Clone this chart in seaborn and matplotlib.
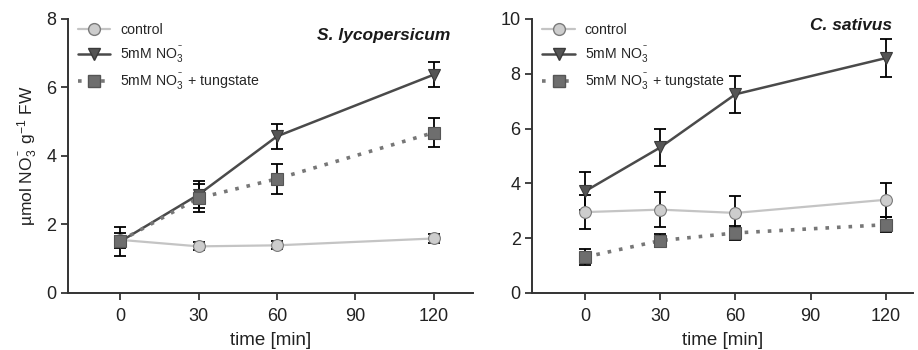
import matplotlib
matplotlib.use('Agg')
import matplotlib.pyplot as plt
import seaborn as sns
import pandas as pd

# time points (min)
time = [0, 30, 60, 120]

# S. lycopersicum
tom_control = [1.55, 1.36, 1.39, 1.59]
tom_control_err = [0.12, 0.12, 0.12, 0.12]
tom_no3 = [1.50, 2.87, 4.57, 6.37]
tom_no3_err = [0.42, 0.40, 0.37, 0.37]
tom_tung = [1.52, 2.77, 3.33, 4.68]
tom_tung_err = [0.22, 0.42, 0.43, 0.42]

# C. sativus
cuc_control = [2.95, 3.04, 2.92, 3.40]
cuc_control_err = [0.63, 0.63, 0.63, 0.63]
cuc_no3 = [3.71, 5.31, 7.25, 8.57]
cuc_no3_err = [0.70, 0.68, 0.67, 0.68]
cuc_tung = [1.31, 1.91, 2.19, 2.49]
cuc_tung_err = [0.29, 0.25, 0.25, 0.27]

labels = ['control', '5mM NO$_3^{^-}$', '5mM NO$_3^{^-}$ + tungstate']

sns.set_theme(style='ticks')
plt.rcParams['font.family'] = ['Liberation Sans', 'DejaVu Sans']
plt.rcParams['mathtext.fontset'] = 'custom'
plt.rcParams['mathtext.rm'] = 'Liberation Sans'
plt.rcParams['mathtext.it'] = 'Liberation Sans:italic'

styles = [
    dict(color='#c4c4c4', marker='o', mfc='#cdcdcd', mec='#7a7a7a', ls='-', ms=8.5, lw=1.6),
    dict(color='#4a4a4a', marker='v', mfc='#555555', mec='#3a3a3a', ls='-', ms=8.5, lw=1.8),
    dict(color='#777777', marker='s', mfc='#6e6e6e', mec='#555555', ls=(0, (1, 2.2)), ms=8, lw=2.6),
]

fig = plt.figure(figsize=(9.18, 3.5), dpi=100)
ax1 = fig.add_axes([0.074, 0.163, 0.441, 0.783])
ax2 = fig.add_axes([0.580, 0.163, 0.415, 0.783])

panels = [
    (ax1, [tom_control, tom_no3, tom_tung], [tom_control_err, tom_no3_err, tom_tung_err],
     'S. lycopersicum', 8, (-20, 135), 0.965),
    (ax2, [cuc_control, cuc_no3, cuc_tung], [cuc_control_err, cuc_no3_err, cuc_tung_err],
     'C. sativus', 10, (-21, 131), 1.005),
]

for ax, series, errs, title, ymax, xlim, ty in panels:
    handles = []
    for vals, err, lab, st in zip(series, errs, labels, styles):
        df = pd.DataFrame({'time': time, 'value': vals})
        ax.errorbar(time, vals, yerr=err, fmt='none', ecolor='black',
                    elinewidth=1.3, capsize=4, capthick=1.3, zorder=2)
        sns.lineplot(data=df, x='time', y='value', ax=ax, color=st['color'],
                     linestyle=st['ls'], linewidth=st['lw'], marker=st['marker'],
                     markersize=st['ms'], markerfacecolor=st['mfc'],
                     markeredgecolor=st['mec'], markeredgewidth=0.8, zorder=3)
        handles.append(plt.Line2D([], [], color=st['color'], linestyle=st['ls'],
                                  linewidth=st['lw'], marker=st['marker'],
                                  markersize=st['ms'], markerfacecolor=st['mfc'],
                                  markeredgecolor=st['mec'], label=lab))
    ax.set_xlim(*xlim)
    ax.set_ylim(0, ymax)
    ax.set_xticks([0, 30, 60, 90, 120])
    ax.set_yticks(range(0, ymax + 1, 2))
    ax.set_xlabel('time [min]', fontsize=13.5, color='#222222', labelpad=5)
    ax.set_ylabel('')
    ax.tick_params(labelsize=13, colors='#222222', length=5, width=1.2)
    ax.tick_params(axis='x', pad=6)
    for sp in ['left', 'bottom']:
        ax.spines[sp].set_linewidth(1.4)
        ax.spines[sp].set_color('#333333')
    sns.despine(ax=ax)
    ax.text(0.945, ty, title, transform=ax.transAxes, ha='right', va='top',
            fontsize=12.5, fontweight='bold', fontstyle='italic', color='#1a1a1a')
    ax.legend(handles=handles, loc='upper left', bbox_to_anchor=(0.0, 1.02),
              frameon=False, fontsize=10.2, handlelength=2.3, handletextpad=0.7,
              labelspacing=0.5, borderaxespad=0.3)

ax1.set_ylabel('µmol NO$_3^{^-}$ g$^{-1}$ FW', fontsize=12.5, color='#222222')

fig.savefig('out.png', dpi=100)
